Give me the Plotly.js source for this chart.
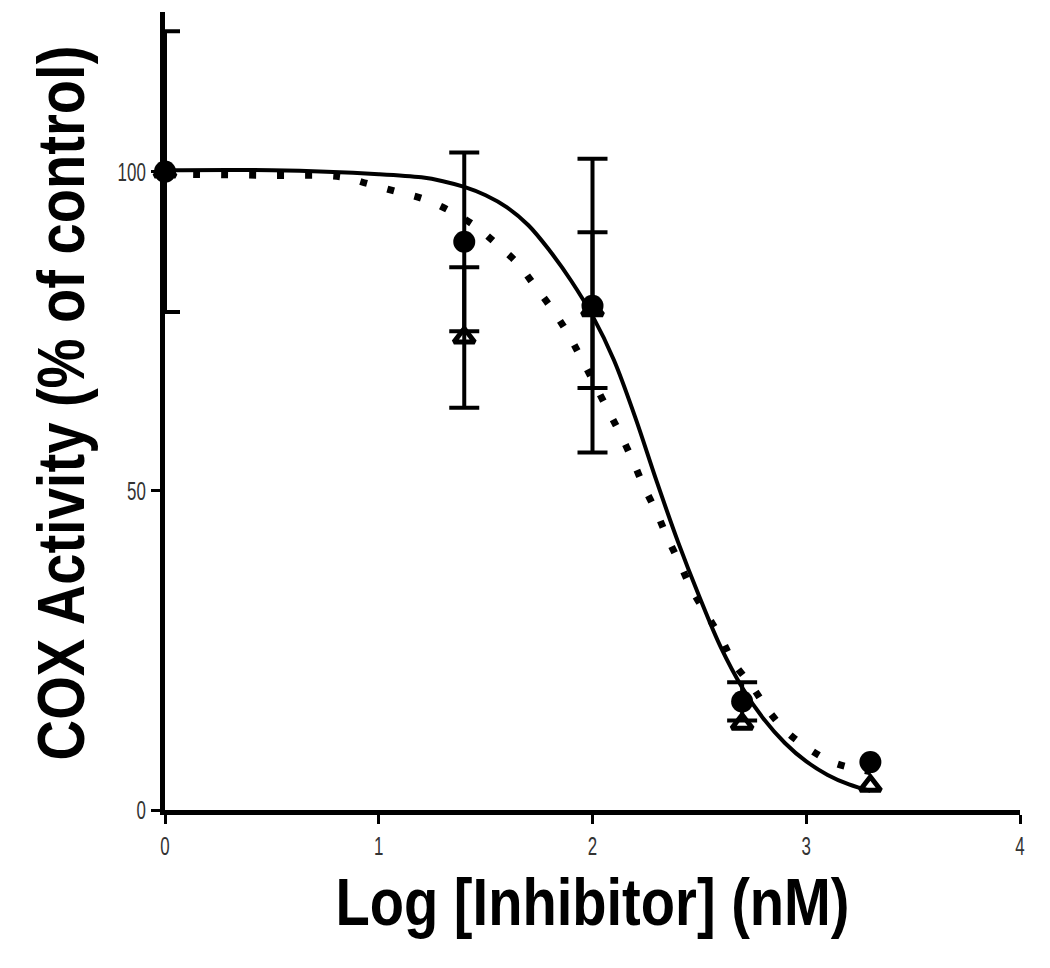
<!DOCTYPE html>
<html>
<head>
<meta charset="utf-8">
<script src="https://cdn.plot.ly/plotly-3.0.1.min.js"></script>
<style>html,body{margin:0;padding:0;background:#fff;}#chart{width:1050px;height:968px;}</style>
</head>
<body>
<div id="chart"></div>
<script>
// Measured data (Log [Inhibitor], % of control)
const doseX = [0, 1.4, 2, 2.7, 3.3];
const circleY = [100, 89, 79, 17, 7.5];
const circleErr = [0, 14, 23, 3, 0];
const triangleY = [100, 74, 78.3, 13.5, 3.8];
const triangleErr = [22, 11, 12.2, 0, 0];

// Fitted curves
const solidX = [0, 0.5, 1.0, 1.2, 1.3, 1.4, 1.5, 1.6, 1.7, 1.8, 1.9, 2.0, 2.1, 2.2, 2.3, 2.4, 2.5, 2.6, 2.7, 2.8, 2.9, 3.0, 3.1, 3.2, 3.3];
const solidY = [100.2, 100.2, 99.6, 99.1, 98.5, 97.6, 96.3, 94.4, 91.6, 87.6, 82.9, 77.4, 70.5, 61.5, 51.5, 42, 33.4, 25.5, 19.2, 14.3, 10.5, 7.6, 5.5, 4.0, 3.0];
const dotX = [0, 0.5, 0.82, 0.95, 1.08, 1.21, 1.33, 1.45, 1.55, 1.65, 1.73, 1.81, 1.88, 1.95, 2.07, 2.13, 2.19, 2.24, 2.30, 2.35, 2.41, 2.47, 2.6, 2.66, 2.75, 2.82, 2.91, 3.02, 3.13, 3.3];
const dotY = [99.6, 99.4, 99.2, 98.1, 96.9, 95.7, 93.9, 91.5, 88.7, 85.6, 82.1, 78.5, 74.9, 70.6, 62.8, 58.9, 54.6, 50.7, 46.6, 42.7, 38.5, 34.2, 27, 23.1, 19.2, 15.7, 12.2, 9.4, 7.4, 6.0];

const xTicks = [0, 1, 2, 3, 4];
const yTicks = [0, 50, 100];

const FONT = "'Liberation Sans', Arial, sans-serif";

// keep only points that carry an error bar
function withErr(xs, ys, es) {
  const o = {x: [], y: [], e: []};
  xs.forEach(function (v, i) { if (es[i] > 0) { o.x.push(v); o.y.push(ys[i]); o.e.push(es[i]); } });
  return o;
}
const cErr = withErr(doseX, circleY, circleErr);
const tErr = withErr(doseX, triangleY, triangleErr);
const errStyle = {type: 'data', visible: true, color: '#000', thickness: 4, width: 15};

const traces = [
  {x: dotX, y: dotY, mode: 'lines', line: {color: '#000', width: 7, dash: '7px,21px', shape: 'spline'}, hoverinfo: 'skip', cliponaxis: false},
  {x: solidX, y: solidY, mode: 'lines', line: {color: '#000', width: 4, shape: 'spline'}, hoverinfo: 'skip', cliponaxis: false},
  {x: tErr.x, y: tErr.y, mode: 'markers', cliponaxis: false, marker: {size: 1, opacity: 0},
   error_y: Object.assign({array: tErr.e}, errStyle)},
  {x: cErr.x, y: cErr.y, mode: 'markers', cliponaxis: false, marker: {size: 1, opacity: 0},
   error_y: Object.assign({array: cErr.e}, errStyle)},
  {x: doseX, y: triangleY, mode: 'markers', cliponaxis: false,
   marker: {symbol: 'triangle-up-open', size: 18, color: '#000', line: {width: 5, color: '#000'}}},
  {x: doseX, y: circleY, mode: 'markers', cliponaxis: false,
   marker: {symbol: 'circle', size: 22, color: '#000'}}
];

const layout = {
  width: 1050, height: 968,
  margin: {l: 165, r: 30, t: 12, b: 158},
  paper_bgcolor: '#fff', plot_bgcolor: '#fff',
  showlegend: false,
  xaxis: {
    range: [0, 4], tickvals: xTicks, ticktext: xTicks.map(String),
    showgrid: false, zeroline: false, showline: true, linecolor: '#000', linewidth: 5,
    ticks: 'outside', ticklen: 9, tickwidth: 3, tickcolor: '#000',
    tickfont: {family: FONT, size: 26, color: '#333'},
    title: {text: 'Log [Inhibitor] (nM)', font: {family: FONT, size: 66, color: '#000', weight: 'bold'}, standoff: 20}
  },
  yaxis: {
    range: [0, 125], tickvals: yTicks, ticktext: yTicks.map(String),
    showgrid: false, zeroline: false, showline: true, linecolor: '#000', linewidth: 5,
    ticks: 'outside', ticklen: 9, tickwidth: 3, tickcolor: '#000',
    tickfont: {family: FONT, size: 26, color: '#333'},
    title: {text: 'COX Activity (% of control)', font: {family: FONT, size: 66, color: '#000', weight: 'bold'}, standoff: 6}
  }
};

function condense(el, s, dx, dy) {
  const x = parseFloat(el.getAttribute('x')) || 0;
  const y = parseFloat(el.getAttribute('y')) || 0;
  const t = el.getAttribute('transform') || '';
  el.setAttribute('transform', 'translate(' + (dx || 0) + ',' + (dy || 0) + ') ' + t +
    ' translate(' + x + ',' + y + ') scale(' + s + ',1) translate(' + (-x) + ',' + (-y) + ')');
}

Plotly.newPlot('chart', traces, layout, {displayModeBar: false, staticPlot: true}).then(function (gd) {
  gd.querySelectorAll('.xtitle').forEach(function (el) { condense(el, 0.85, 0, 0); });
  gd.querySelectorAll('.ytitle').forEach(function (el) { condense(el, 0.85, 8, -8); });
  gd.querySelectorAll('.xtick text, .ytick text').forEach(function (el) { condense(el, 0.65); });
});
</script>
</body>
</html>
